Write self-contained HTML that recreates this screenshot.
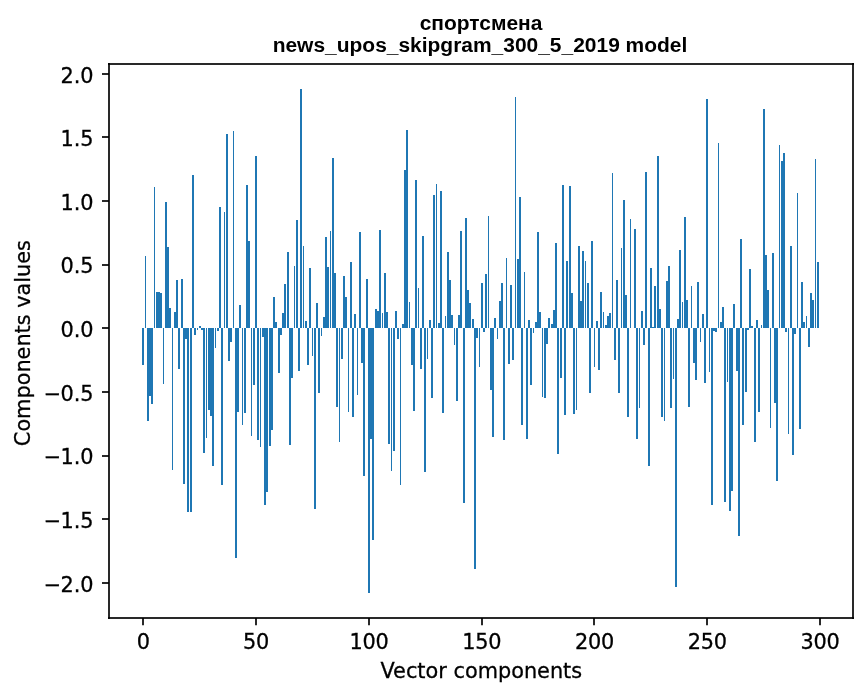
<!DOCTYPE html>
<html lang="ru"><head><meta charset="utf-8"><title>спортсмена — news_upos_skipgram_300_5_2019 model</title>
<style>html,body{margin:0;padding:0;background:#fff}svg{display:block}.t{font-family:"DejaVu Sans","Liberation Sans",sans-serif;font-size:20.83px;fill:#000;stroke:#000;stroke-width:.3px}.h{font-family:"Liberation Sans","DejaVu Sans",sans-serif;font-weight:bold;font-size:20.96px;fill:#000}</style></head><body>
<svg width="867" height="696" viewBox="0 0 867 696">
<rect width="867" height="696" fill="#fff"/>
<g fill="#1f77b4" shape-rendering="crispEdges">
<rect x="142" y="328" width="2" height="37"/>
<rect x="145" y="256" width="1" height="72"/>
<rect x="147" y="328" width="2" height="93"/>
<rect x="149" y="328" width="2" height="68"/>
<rect x="151" y="328" width="2" height="76"/>
<rect x="154" y="187" width="1" height="141"/>
<rect x="156" y="292" width="2" height="36"/>
<rect x="158" y="292" width="2" height="36"/>
<rect x="160" y="293" width="2" height="35"/>
<rect x="163" y="328" width="1" height="56"/>
<rect x="165" y="202" width="2" height="126"/>
<rect x="167" y="247" width="2" height="81"/>
<rect x="169" y="308" width="2" height="20"/>
<rect x="172" y="328" width="1" height="142"/>
<rect x="174" y="312" width="2" height="16"/>
<rect x="176" y="280" width="2" height="48"/>
<rect x="178" y="328" width="2" height="41"/>
<rect x="181" y="279" width="2" height="49"/>
<rect x="183" y="328" width="2" height="156"/>
<rect x="185" y="328" width="2" height="11"/>
<rect x="187" y="328" width="2" height="184"/>
<rect x="190" y="328" width="2" height="184"/>
<rect x="192" y="175" width="2" height="153"/>
<rect x="194" y="328" width="2" height="7"/>
<rect x="197" y="328" width="1" height="2"/>
<rect x="199" y="326" width="2" height="2"/>
<rect x="201" y="328" width="2" height="2"/>
<rect x="203" y="328" width="2" height="125"/>
<rect x="206" y="328" width="1" height="110"/>
<rect x="208" y="328" width="2" height="82"/>
<rect x="210" y="328" width="2" height="88"/>
<rect x="212" y="328" width="2" height="138"/>
<rect x="215" y="328" width="1" height="20"/>
<rect x="217" y="328" width="2" height="3"/>
<rect x="219" y="207" width="2" height="121"/>
<rect x="221" y="328" width="2" height="157"/>
<rect x="224" y="212" width="1" height="116"/>
<rect x="226" y="134" width="2" height="194"/>
<rect x="228" y="328" width="2" height="33"/>
<rect x="230" y="328" width="2" height="14"/>
<rect x="233" y="131" width="1" height="197"/>
<rect x="235" y="328" width="2" height="230"/>
<rect x="237" y="328" width="2" height="84"/>
<rect x="239" y="305" width="2" height="23"/>
<rect x="242" y="328" width="1" height="97"/>
<rect x="244" y="328" width="2" height="85"/>
<rect x="246" y="185" width="2" height="143"/>
<rect x="248" y="241" width="2" height="87"/>
<rect x="251" y="328" width="1" height="108"/>
<rect x="253" y="328" width="2" height="57"/>
<rect x="255" y="156" width="2" height="172"/>
<rect x="257" y="328" width="2" height="112"/>
<rect x="260" y="328" width="1" height="119"/>
<rect x="262" y="328" width="2" height="9"/>
<rect x="264" y="328" width="2" height="177"/>
<rect x="266" y="328" width="2" height="164"/>
<rect x="269" y="328" width="2" height="118"/>
<rect x="271" y="328" width="2" height="102"/>
<rect x="273" y="297" width="2" height="31"/>
<rect x="275" y="322" width="2" height="6"/>
<rect x="278" y="328" width="2" height="45"/>
<rect x="280" y="328" width="2" height="7"/>
<rect x="282" y="313" width="2" height="15"/>
<rect x="284" y="284" width="2" height="44"/>
<rect x="287" y="252" width="2" height="76"/>
<rect x="289" y="328" width="2" height="117"/>
<rect x="291" y="328" width="2" height="50"/>
<rect x="294" y="266" width="1" height="62"/>
<rect x="296" y="220" width="2" height="108"/>
<rect x="298" y="328" width="2" height="43"/>
<rect x="300" y="89" width="2" height="239"/>
<rect x="303" y="246" width="1" height="82"/>
<rect x="305" y="321" width="2" height="7"/>
<rect x="307" y="328" width="2" height="37"/>
<rect x="309" y="268" width="2" height="60"/>
<rect x="312" y="328" width="1" height="28"/>
<rect x="314" y="328" width="2" height="181"/>
<rect x="316" y="303" width="2" height="25"/>
<rect x="318" y="328" width="2" height="65"/>
<rect x="321" y="328" width="1" height="8"/>
<rect x="323" y="317" width="2" height="11"/>
<rect x="325" y="237" width="2" height="91"/>
<rect x="327" y="267" width="2" height="61"/>
<rect x="330" y="231" width="1" height="97"/>
<rect x="332" y="158" width="2" height="170"/>
<rect x="334" y="273" width="2" height="55"/>
<rect x="336" y="328" width="2" height="79"/>
<rect x="339" y="328" width="1" height="114"/>
<rect x="341" y="328" width="2" height="31"/>
<rect x="343" y="276" width="2" height="52"/>
<rect x="345" y="297" width="2" height="31"/>
<rect x="348" y="328" width="1" height="84"/>
<rect x="350" y="262" width="2" height="66"/>
<rect x="352" y="328" width="2" height="89"/>
<rect x="354" y="314" width="2" height="14"/>
<rect x="357" y="328" width="1" height="67"/>
<rect x="359" y="232" width="2" height="96"/>
<rect x="361" y="328" width="2" height="35"/>
<rect x="363" y="328" width="2" height="148"/>
<rect x="366" y="279" width="2" height="49"/>
<rect x="368" y="328" width="2" height="265"/>
<rect x="370" y="328" width="2" height="111"/>
<rect x="372" y="328" width="2" height="212"/>
<rect x="375" y="309" width="2" height="19"/>
<rect x="377" y="311" width="2" height="17"/>
<rect x="379" y="230" width="2" height="98"/>
<rect x="382" y="313" width="1" height="15"/>
<rect x="384" y="273" width="2" height="55"/>
<rect x="386" y="312" width="2" height="16"/>
<rect x="388" y="328" width="2" height="116"/>
<rect x="391" y="328" width="1" height="143"/>
<rect x="393" y="328" width="2" height="123"/>
<rect x="395" y="311" width="2" height="17"/>
<rect x="397" y="328" width="2" height="11"/>
<rect x="400" y="328" width="1" height="157"/>
<rect x="402" y="324" width="2" height="4"/>
<rect x="404" y="170" width="2" height="158"/>
<rect x="406" y="130" width="2" height="198"/>
<rect x="409" y="302" width="1" height="26"/>
<rect x="411" y="328" width="2" height="37"/>
<rect x="413" y="328" width="2" height="83"/>
<rect x="415" y="180" width="2" height="148"/>
<rect x="418" y="288" width="1" height="40"/>
<rect x="420" y="328" width="2" height="41"/>
<rect x="422" y="236" width="2" height="92"/>
<rect x="424" y="328" width="2" height="144"/>
<rect x="427" y="328" width="1" height="31"/>
<rect x="429" y="320" width="2" height="8"/>
<rect x="431" y="328" width="2" height="70"/>
<rect x="433" y="195" width="2" height="133"/>
<rect x="436" y="184" width="1" height="144"/>
<rect x="438" y="323" width="2" height="5"/>
<rect x="440" y="191" width="2" height="137"/>
<rect x="442" y="328" width="2" height="85"/>
<rect x="445" y="316" width="1" height="12"/>
<rect x="447" y="252" width="2" height="76"/>
<rect x="449" y="280" width="2" height="48"/>
<rect x="451" y="315" width="2" height="13"/>
<rect x="454" y="328" width="1" height="17"/>
<rect x="456" y="328" width="2" height="73"/>
<rect x="458" y="315" width="2" height="13"/>
<rect x="460" y="231" width="2" height="97"/>
<rect x="463" y="328" width="2" height="175"/>
<rect x="465" y="218" width="2" height="110"/>
<rect x="467" y="290" width="2" height="38"/>
<rect x="469" y="303" width="2" height="25"/>
<rect x="472" y="319" width="2" height="9"/>
<rect x="474" y="328" width="2" height="241"/>
<rect x="476" y="328" width="2" height="10"/>
<rect x="479" y="328" width="1" height="39"/>
<rect x="481" y="283" width="2" height="45"/>
<rect x="483" y="328" width="2" height="4"/>
<rect x="485" y="274" width="2" height="54"/>
<rect x="488" y="216" width="1" height="112"/>
<rect x="490" y="328" width="2" height="62"/>
<rect x="492" y="328" width="2" height="109"/>
<rect x="494" y="318" width="2" height="10"/>
<rect x="497" y="328" width="1" height="11"/>
<rect x="499" y="301" width="2" height="27"/>
<rect x="501" y="283" width="2" height="45"/>
<rect x="503" y="328" width="2" height="112"/>
<rect x="506" y="258" width="1" height="70"/>
<rect x="508" y="328" width="2" height="36"/>
<rect x="510" y="285" width="2" height="43"/>
<rect x="512" y="328" width="2" height="32"/>
<rect x="515" y="97" width="1" height="231"/>
<rect x="517" y="259" width="2" height="69"/>
<rect x="519" y="197" width="2" height="131"/>
<rect x="521" y="328" width="2" height="97"/>
<rect x="524" y="272" width="1" height="56"/>
<rect x="526" y="328" width="2" height="111"/>
<rect x="528" y="320" width="2" height="8"/>
<rect x="530" y="328" width="2" height="57"/>
<rect x="533" y="328" width="1" height="5"/>
<rect x="535" y="322" width="2" height="6"/>
<rect x="537" y="232" width="2" height="96"/>
<rect x="539" y="312" width="2" height="16"/>
<rect x="542" y="328" width="1" height="69"/>
<rect x="544" y="328" width="2" height="70"/>
<rect x="546" y="328" width="2" height="16"/>
<rect x="548" y="318" width="2" height="10"/>
<rect x="551" y="324" width="2" height="4"/>
<rect x="553" y="310" width="2" height="18"/>
<rect x="555" y="243" width="2" height="85"/>
<rect x="557" y="328" width="2" height="126"/>
<rect x="560" y="328" width="2" height="50"/>
<rect x="562" y="185" width="2" height="143"/>
<rect x="564" y="328" width="2" height="87"/>
<rect x="566" y="261" width="2" height="67"/>
<rect x="569" y="186" width="2" height="142"/>
<rect x="571" y="293" width="2" height="35"/>
<rect x="573" y="328" width="2" height="86"/>
<rect x="576" y="328" width="1" height="82"/>
<rect x="578" y="246" width="2" height="82"/>
<rect x="580" y="301" width="2" height="27"/>
<rect x="582" y="251" width="2" height="77"/>
<rect x="585" y="261" width="1" height="67"/>
<rect x="587" y="283" width="2" height="45"/>
<rect x="589" y="328" width="2" height="65"/>
<rect x="591" y="241" width="2" height="87"/>
<rect x="594" y="328" width="1" height="39"/>
<rect x="596" y="321" width="2" height="7"/>
<rect x="598" y="328" width="2" height="42"/>
<rect x="600" y="292" width="2" height="36"/>
<rect x="603" y="312" width="1" height="16"/>
<rect x="605" y="325" width="2" height="3"/>
<rect x="607" y="316" width="2" height="12"/>
<rect x="609" y="313" width="2" height="15"/>
<rect x="612" y="173" width="1" height="155"/>
<rect x="614" y="328" width="2" height="32"/>
<rect x="616" y="280" width="2" height="48"/>
<rect x="618" y="328" width="2" height="65"/>
<rect x="621" y="248" width="1" height="80"/>
<rect x="623" y="200" width="2" height="128"/>
<rect x="625" y="295" width="2" height="33"/>
<rect x="627" y="328" width="2" height="89"/>
<rect x="630" y="219" width="1" height="109"/>
<rect x="634" y="229" width="2" height="99"/>
<rect x="636" y="328" width="2" height="111"/>
<rect x="639" y="328" width="1" height="80"/>
<rect x="641" y="311" width="2" height="17"/>
<rect x="643" y="328" width="2" height="17"/>
<rect x="645" y="172" width="2" height="156"/>
<rect x="648" y="328" width="2" height="138"/>
<rect x="650" y="268" width="2" height="60"/>
<rect x="652" y="327" width="2" height="1"/>
<rect x="654" y="286" width="2" height="42"/>
<rect x="657" y="156" width="2" height="172"/>
<rect x="659" y="309" width="2" height="19"/>
<rect x="661" y="328" width="2" height="89"/>
<rect x="664" y="328" width="1" height="93"/>
<rect x="666" y="281" width="2" height="47"/>
<rect x="668" y="266" width="2" height="62"/>
<rect x="670" y="328" width="2" height="80"/>
<rect x="673" y="328" width="1" height="51"/>
<rect x="675" y="328" width="2" height="259"/>
<rect x="677" y="319" width="2" height="9"/>
<rect x="679" y="250" width="2" height="78"/>
<rect x="682" y="302" width="1" height="26"/>
<rect x="684" y="217" width="2" height="111"/>
<rect x="686" y="300" width="2" height="28"/>
<rect x="688" y="328" width="2" height="79"/>
<rect x="691" y="286" width="1" height="42"/>
<rect x="693" y="328" width="2" height="35"/>
<rect x="695" y="328" width="2" height="52"/>
<rect x="697" y="282" width="2" height="46"/>
<rect x="700" y="328" width="1" height="14"/>
<rect x="702" y="314" width="2" height="14"/>
<rect x="704" y="328" width="2" height="55"/>
<rect x="706" y="99" width="2" height="229"/>
<rect x="709" y="328" width="1" height="44"/>
<rect x="711" y="328" width="2" height="177"/>
<rect x="713" y="328" width="2" height="3"/>
<rect x="715" y="328" width="2" height="4"/>
<rect x="718" y="143" width="1" height="185"/>
<rect x="720" y="322" width="2" height="6"/>
<rect x="722" y="307" width="2" height="21"/>
<rect x="724" y="328" width="2" height="174"/>
<rect x="727" y="328" width="1" height="54"/>
<rect x="729" y="328" width="2" height="183"/>
<rect x="731" y="328" width="2" height="163"/>
<rect x="733" y="304" width="2" height="24"/>
<rect x="736" y="328" width="2" height="43"/>
<rect x="738" y="328" width="2" height="208"/>
<rect x="740" y="239" width="2" height="89"/>
<rect x="742" y="328" width="2" height="97"/>
<rect x="745" y="328" width="2" height="64"/>
<rect x="747" y="328" width="2" height="2"/>
<rect x="749" y="269" width="2" height="59"/>
<rect x="751" y="326" width="2" height="2"/>
<rect x="754" y="328" width="2" height="114"/>
<rect x="756" y="320" width="2" height="8"/>
<rect x="758" y="328" width="2" height="84"/>
<rect x="761" y="325" width="1" height="3"/>
<rect x="763" y="109" width="2" height="219"/>
<rect x="765" y="255" width="2" height="73"/>
<rect x="767" y="290" width="2" height="38"/>
<rect x="770" y="328" width="1" height="100"/>
<rect x="772" y="253" width="2" height="75"/>
<rect x="774" y="328" width="2" height="75"/>
<rect x="776" y="328" width="2" height="153"/>
<rect x="779" y="145" width="1" height="183"/>
<rect x="781" y="161" width="2" height="167"/>
<rect x="783" y="153" width="2" height="175"/>
<rect x="785" y="328" width="2" height="4"/>
<rect x="788" y="328" width="1" height="106"/>
<rect x="790" y="246" width="2" height="82"/>
<rect x="792" y="328" width="2" height="127"/>
<rect x="794" y="328" width="2" height="6"/>
<rect x="797" y="193" width="1" height="135"/>
<rect x="799" y="328" width="2" height="101"/>
<rect x="801" y="282" width="2" height="46"/>
<rect x="803" y="322" width="2" height="6"/>
<rect x="806" y="316" width="1" height="12"/>
<rect x="808" y="328" width="2" height="19"/>
<rect x="810" y="293" width="2" height="35"/>
<rect x="812" y="300" width="2" height="28"/>
<rect x="815" y="159" width="1" height="169"/>
<rect x="817" y="262" width="2" height="66"/>
</g>
<g stroke="#000" stroke-opacity="0.84" stroke-width="2" fill="none">
<line x1="143" y1="618" x2="143" y2="625.3"/>
<line x1="256" y1="618" x2="256" y2="625.3"/>
<line x1="369" y1="618" x2="369" y2="625.3"/>
<line x1="482" y1="618" x2="482" y2="625.3"/>
<line x1="594" y1="618" x2="594" y2="625.3"/>
<line x1="707" y1="618" x2="707" y2="625.3"/>
<line x1="820" y1="618" x2="820" y2="625.3"/>
<line x1="102" y1="74" x2="109" y2="74"/>
<line x1="102" y1="137" x2="109" y2="137"/>
<line x1="102" y1="201" x2="109" y2="201"/>
<line x1="102" y1="265" x2="109" y2="265"/>
<line x1="102" y1="328" x2="109" y2="328"/>
<line x1="102" y1="392" x2="109" y2="392"/>
<line x1="102" y1="456" x2="109" y2="456"/>
<line x1="102" y1="519" x2="109" y2="519"/>
<line x1="102" y1="583" x2="109" y2="583"/>
</g>
<g stroke="#000" stroke-opacity="0.84" stroke-width="2" fill="none"><line x1="109" y1="63" x2="109" y2="619"/><line x1="853" y1="63" x2="853" y2="619"/><line x1="108" y1="64" x2="854" y2="64"/><line x1="108" y1="618" x2="854" y2="618"/></g>
<text class="t" x="143.3" y="648.8" text-anchor="middle" letter-spacing="-0.25">0</text>
<text class="t" x="256.1" y="648.8" text-anchor="middle" letter-spacing="-0.25">50</text>
<text class="t" x="368.9" y="648.8" text-anchor="middle" letter-spacing="-0.25">100</text>
<text class="t" x="481.7" y="648.8" text-anchor="middle" letter-spacing="-0.25">150</text>
<text class="t" x="594.5" y="648.8" text-anchor="middle" letter-spacing="-0.25">200</text>
<text class="t" x="707.3" y="648.8" text-anchor="middle" letter-spacing="-0.25">250</text>
<text class="t" x="820.1" y="648.8" text-anchor="middle" letter-spacing="-0.25">300</text>
<text class="t" x="93.6" y="83" text-anchor="end">2.0</text>
<text class="t" x="93.6" y="146" text-anchor="end">1.5</text>
<text class="t" x="93.6" y="210" text-anchor="end">1.0</text>
<text class="t" x="93.6" y="273" text-anchor="end">0.5</text>
<text class="t" x="93.6" y="337" text-anchor="end">0.0</text>
<text class="t" x="93.6" y="401" text-anchor="end">−<tspan dx="-0.8">0.5</tspan></text>
<text class="t" x="93.6" y="464" text-anchor="end">−<tspan dx="-0.8">1.0</tspan></text>
<text class="t" x="93.6" y="528" text-anchor="end">−<tspan dx="-0.8">1.5</tspan></text>
<text class="t" x="93.6" y="592" text-anchor="end">−<tspan dx="-0.8">2.0</tspan></text>
<text class="t" x="481.3" y="677.9" text-anchor="middle">Vector components</text>
<text class="t" transform="translate(30,343.1) rotate(-90)" text-anchor="middle">Components values</text>
<text class="h" x="481.0" y="30.4" text-anchor="middle">спортсмена</text>
<text class="h" x="480.0" y="52.2" text-anchor="middle">news_upos_skipgram_300_5_2019 model</text>
</svg></body></html>
